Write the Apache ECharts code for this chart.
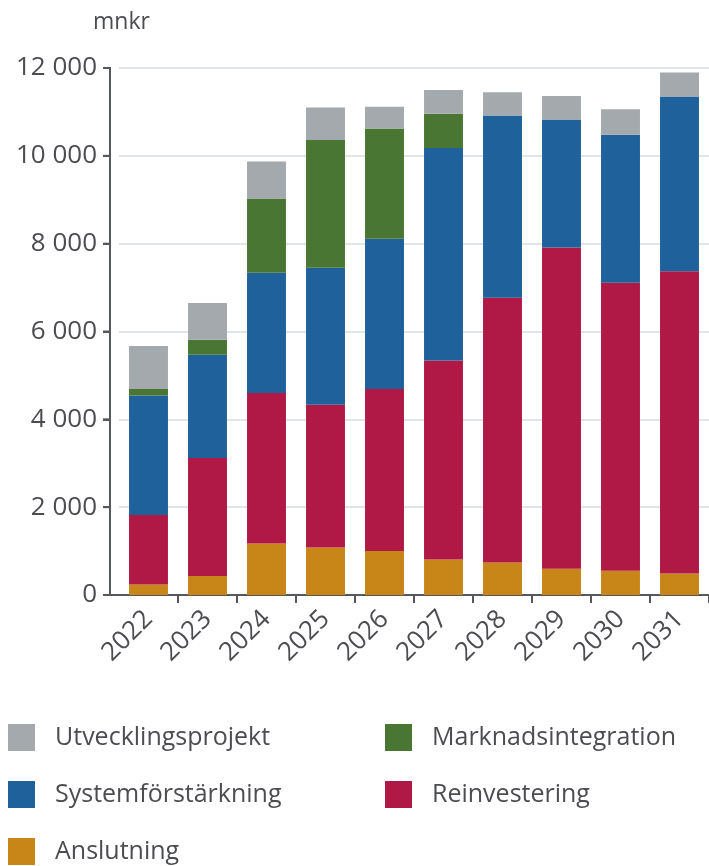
<!DOCTYPE html>
<html>
<head>
<meta charset="utf-8">
<script src="https://cdn.jsdelivr.net/npm/echarts@6/dist/echarts.min.js"></script>
<style>
  html, body { margin: 0; padding: 0; background: #ffffff; }
  #chart { width: 709px; height: 866px; }
</style>
</head>
<body>
<div id="chart"></div>
<script>
// Investeringar per år och kategori (mnkr)
const years = ['2022', '2023', '2024', '2025', '2026', '2027', '2028', '2029', '2030', '2031'];
const anslutning          = [240, 430, 1170, 1080, 1000, 810, 740, 600, 550, 490];
const reinvestering       = [1580, 2690, 3430, 3250, 3690, 4530, 6030, 7310, 6560, 6880];
const systemforstarkning  = [2720, 2350, 2740, 3120, 3420, 4840, 4150, 2920, 3370, 3980];
const marknadsintegration = [150, 340, 1690, 2910, 2510, 780, 0, 0, 0, 0];
const utvecklingsprojekt  = [980, 840, 840, 740, 500, 540, 530, 530, 580, 550];
const yTicks = [0, 2000, 4000, 6000, 8000, 10000, 12000];

const FONT = 'Open Sans';
const TEXT = '#4b4d51';
const AXIS = '#55595d';
const WIDTH = 709;
const HEIGHT = 866;
const GRID = { left: 119, right: 0, top: 68, bottom: 271 };
const Y_OFFSET = 9;
const Y_TICK_LEN = 7;

const colors = {
  Utvecklingsprojekt: '#a4a9ae',
  Marknadsintegration: '#4a7633',
  'Systemförstärkning': '#1f619b',
  Reinvestering: '#b01946',
  Anslutning: '#c98618'
};

function barSeries(name, values) {
  return {
    name: name,
    type: 'bar',
    stack: 'total',
    data: values,
    barWidth: '66%',
    itemStyle: { color: colors[name] },
    emphasis: { disabled: true }
  };
}

function spaced(v) {
  return String(v).replace(/\B(?=(\d{3})+(?!\d))/g, ' ');
}

// Strokes of the y-axis (rule, ticks, baseline stub), placed on the grid's scale
const yMin = yTicks[0];
const yMax = yTicks[yTicks.length - 1];
const plotTop = GRID.top;
const plotBottom = HEIGHT - GRID.bottom;
function yPixel(v) {
  return plotTop + (yMax - v) / (yMax - yMin) * (plotBottom - plotTop);
}
const axisX = GRID.left - Y_OFFSET;
const strokes = [
  { x1: axisX, y1: plotTop - 1, x2: axisX, y2: plotBottom + 1 },
  { x1: axisX - Y_TICK_LEN, y1: plotBottom, x2: GRID.left + 1, y2: plotBottom }
].concat(yTicks.map(function (v) {
  const y = yPixel(v);
  return { x1: axisX - Y_TICK_LEN, y1: y, x2: axisX, y2: y };
}));

const legendText = { fontFamily: FONT, fontSize: 25, color: TEXT, padding: [0, 0, 0, 15] };

const chart = echarts.init(document.getElementById('chart'), null, { renderer: 'canvas', width: WIDTH, height: HEIGHT });
chart.setOption({
  animation: false,
  backgroundColor: '#ffffff',
  title: {
    text: 'mnkr',
    left: 88,
    top: 6,
    textStyle: { fontFamily: FONT, fontSize: 23, fontWeight: 'normal', color: TEXT }
  },
  grid: GRID,
  xAxis: {
    type: 'category',
    data: years,
    boundaryGap: true,
    axisLine: { show: true, lineStyle: { color: AXIS, width: 2 } },
    axisTick: {
      show: true,
      length: 8,
      interval: function (index) { return index > 0; },
      lineStyle: { color: AXIS, width: 2 }
    },
    axisLabel: {
      rotate: 45,
      margin: 20,
      fontFamily: FONT,
      fontSize: 26,
      color: TEXT
    }
  },
  yAxis: {
    type: 'value',
    min: yMin,
    max: yMax,
    interval: yTicks[1] - yTicks[0],
    offset: Y_OFFSET,
    axisLine: { show: true, lineStyle: { color: AXIS, width: 2 } },
    axisTick: { show: true, length: Y_TICK_LEN, lineStyle: { color: AXIS, width: 2 } },
    axisLabel: {
      margin: 13,
      fontFamily: FONT,
      fontSize: 26,
      color: TEXT,
      formatter: spaced
    },
    splitLine: { show: true, lineStyle: { color: '#e2e5e8', width: 2 } }
  },
  legend: [
    {
      left: 8,
      top: 724,
      height: 160,
      padding: 0,
      orient: 'vertical',
      icon: 'rect',
      itemWidth: 27,
      itemHeight: 27,
      itemGap: 30,
      selectedMode: false,
      textStyle: legendText,
      data: ['Utvecklingsprojekt', 'Systemförstärkning', 'Anslutning']
    },
    {
      left: 385,
      top: 724,
      height: 160,
      padding: 0,
      orient: 'vertical',
      icon: 'rect',
      itemWidth: 27,
      itemHeight: 27,
      itemGap: 30,
      selectedMode: false,
      textStyle: legendText,
      data: ['Marknadsintegration', 'Reinvestering']
    }
  ],
  graphic: {
    elements: strokes.map(function (s) {
      return {
        type: 'line',
        shape: s,
        style: { stroke: AXIS, lineWidth: 2 },
        silent: true,
        zlevel: 1,
        z: 100
      };
    })
  },
  series: [
    barSeries('Anslutning', anslutning),
    barSeries('Reinvestering', reinvestering),
    barSeries('Systemförstärkning', systemforstarkning),
    barSeries('Marknadsintegration', marknadsintegration),
    barSeries('Utvecklingsprojekt', utvecklingsprojekt)
  ]
});
</script>
</body>
</html>
